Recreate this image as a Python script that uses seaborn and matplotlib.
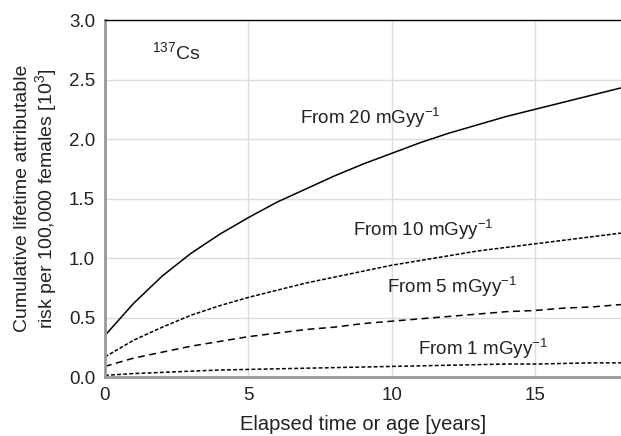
import matplotlib
matplotlib.use("Agg")
import matplotlib.pyplot as plt
import seaborn as sns
import pandas as pd

years = list(range(19))
risk_20 = [0.35, 0.62, 0.85, 1.04, 1.20, 1.34, 1.47, 1.58, 1.69, 1.79, 1.88,
           1.97, 2.05, 2.12, 2.19, 2.25, 2.31, 2.37, 2.43]
risk_10 = [0.17, 0.31, 0.42, 0.52, 0.60, 0.67, 0.73, 0.79, 0.84, 0.89, 0.94,
           0.98, 1.02, 1.06, 1.09, 1.12, 1.15, 1.18, 1.21]
risk_5 = [0.09, 0.16, 0.21, 0.26, 0.30, 0.34, 0.37, 0.40, 0.42, 0.45, 0.47,
          0.49, 0.51, 0.53, 0.55, 0.56, 0.58, 0.59, 0.61]
risk_1 = [0.015, 0.03, 0.04, 0.05, 0.06, 0.065, 0.07, 0.075, 0.08, 0.085, 0.09,
          0.095, 0.10, 0.105, 0.11, 0.11, 0.115, 0.12, 0.12]
doses = ["20", "10", "5", "1"]
label_pos = {"20": (9.27, 2.18), "10": (11.1, 1.24), "5": (12.1, 0.76), "1": (13.2, 0.24)}

df = pd.concat([
    pd.DataFrame({"year": years, "risk": r, "dose": d})
    for d, r in zip(doses, [risk_20, risk_10, risk_5, risk_1])
])

sns.set_style("whitegrid")
plt.rcParams["font.family"] = ["Liberation Sans", "DejaVu Sans"]
plt.rcParams["mathtext.fontset"] = "custom"
plt.rcParams["mathtext.rm"] = "Liberation Sans"
plt.rcParams["mathtext.it"] = "Liberation Sans:italic"

fig = plt.figure(figsize=(6.21, 4.36), dpi=100)
ax = fig.add_axes([0.169, 0.135, 0.831, 0.819])

dashes = {"20": "", "10": (2.5, 1.2), "5": (4.5, 3), "1": (2.5, 1.5)}
sns.lineplot(data=df, x="year", y="risk", style="dose", dashes=dashes,
             color="black", linewidth=1.1, legend=False, ax=ax)

for d in doses:
    x, y = label_pos[d]
    ax.text(x, y, f"From {d} mGyy$^{{\\mathrm{{-1}}}}$", ha="center", va="center",
            fontsize=13.5, color="#222222")
ax.text(1.63, 2.73, "$^{137}$Cs", ha="left", va="center", fontsize=14, color="#222222")

ax.set_xlim(0, 18)
ax.set_ylim(0, 3.0)
ax.set_xticks([0, 5, 10, 15])
ax.set_yticks([0, 0.5, 1.0, 1.5, 2.0, 2.5, 3.0])
ax.set_yticklabels(["0.0", "0.5", "1.0", "1.5", "2.0", "2.5", "3.0"])
ax.tick_params(length=0, labelsize=13.5, colors="#222222", pad=7)
ax.grid(color="#dddddd", linewidth=1)

ax.spines["right"].set_visible(False)
ax.spines["top"].set_color("black")
ax.spines["top"].set_linewidth(1)
for s in ["left", "bottom"]:
    ax.spines[s].set_color("#999999")
    ax.spines[s].set_linewidth(2)

ax.set_xlabel("Elapsed time or age [years]", fontsize=14.5, color="#222222", labelpad=8)
ax.set_ylabel("Cumulative lifetime attributable\nrisk per 100,000 females [10$^{3}$]",
              fontsize=14, color="#222222", labelpad=7, linespacing=1.15)

fig.savefig("out.png", dpi=100)
